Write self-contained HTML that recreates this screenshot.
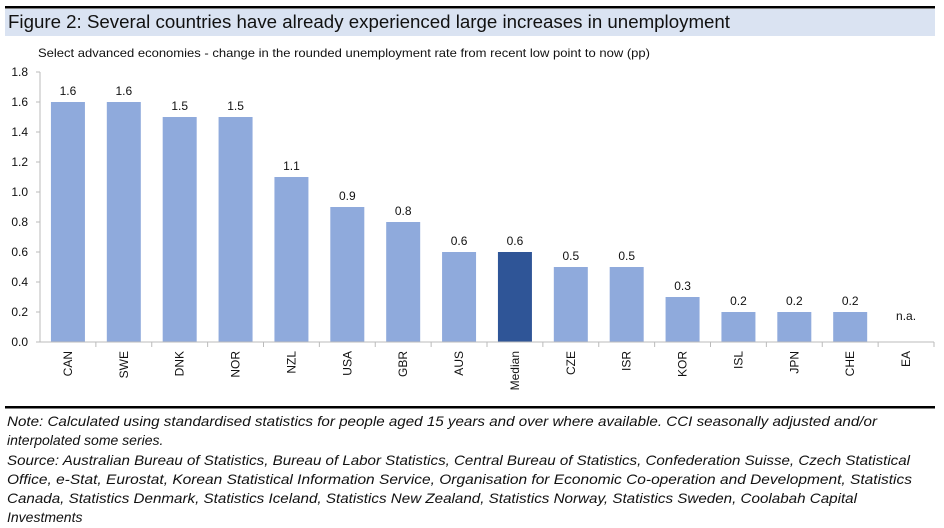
<!DOCTYPE html>
<html><head><meta charset="utf-8"><style>
html,body{margin:0;padding:0;background:#fff;width:944px;height:528px;overflow:hidden;font-family:"Liberation Sans",sans-serif}
</style></head><body>
<svg id="chart" width="944" height="528" xmlns="http://www.w3.org/2000/svg">
<rect x="5" y="6" width="930" height="2.5" fill="#000"/>
<rect x="5" y="9" width="930" height="27" fill="#dae3f2"/>
<text x="8" y="28" font-size="18.5" fill="#111" textLength="722" lengthAdjust="spacingAndGlyphs">Figure 2: Several countries have already experienced large increases in unemployment</text>
<text x="38" y="57" font-size="12" fill="#111" textLength="612" lengthAdjust="spacingAndGlyphs">Select advanced economies - change in the rounded unemployment rate from recent low point to now (pp)</text>
<g id="plot"></g>
<rect x="5" y="406" width="930" height="2.5" fill="#000"/>
<g font-size="14" font-style="italic" fill="#111">
<text x="7" y="426" textLength="870" lengthAdjust="spacingAndGlyphs">Note: Calculated using standardised statistics for people aged 15 years and over where available.  CCI seasonally adjusted and/or</text>
<text x="7" y="445">interpolated some series.</text>
<text x="7" y="465" textLength="903" lengthAdjust="spacingAndGlyphs">Source: Australian Bureau of Statistics, Bureau of Labor Statistics, Central Bureau of Statistics, Confederation Suisse, Czech Statistical</text>
<text x="7" y="484" textLength="905" lengthAdjust="spacingAndGlyphs">Office, e-Stat, Eurostat, Korean Statistical Information Service, Organisation for Economic Co-operation and Development, Statistics</text>
<text x="7" y="503" textLength="850" lengthAdjust="spacingAndGlyphs">Canada, Statistics Denmark, Statistics Iceland, Statistics New Zealand, Statistics Norway, Statistics Sweden, Coolabah Capital</text>
<text x="7" y="522">Investments</text>
</g>
</svg>
<script>
const categories=["CAN","SWE","DNK","NOR","NZL","USA","GBR","AUS","Median","CZE","ISR","KOR","ISL","JPN","CHE","EA"];
const values=[1.6,1.6,1.5,1.5,1.1,0.9,0.8,0.6,0.6,0.5,0.5,0.3,0.2,0.2,0.2,null];
const valueLabels=["1.6","1.6","1.5","1.5","1.1","0.9","0.8","0.6","0.6","0.5","0.5","0.3","0.2","0.2","0.2","n.a."];
const yTicks=[0,0.2,0.4,0.6,0.8,1.0,1.2,1.4,1.6,1.8];
const NS="http://www.w3.org/2000/svg";
const g=document.getElementById('plot');
const x0=40,x1=934,y0=342,yTop=72,yMax=1.8;
const bw=(x1-x0)/categories.length;
function yS(v){return y0-(v/yMax)*(y0-yTop);}
function xC(i){return x0+bw*(i+0.5);}
function mk(t,a){const e=document.createElementNS(NS,t);for(const k in a)e.setAttribute(k,a[k]);g.appendChild(e);return e;}
yTicks.forEach(v=>{
 const t=mk('text',{x:28,y:yS(v)+4,'font-size':12,'text-anchor':'end',fill:'#111'});
 t.textContent=v.toFixed(1);
 
 
 const l=mk('line',{x1:36,x2:40,y1:yS(v),y2:yS(v),stroke:'#bbb'});
 
 
});
const ya=mk('line',{x1:40,x2:40,y1:yTop,y2:y0,stroke:'#bbb'});


categories.forEach((c,i)=>{
 const v=values[i];
 if(v!==null){
  const r=mk('rect',{x:xC(i)-17,y:yS(v),width:34,height:y0-yS(v),fill:c==="Median"?'#2f5597':'#8faadc'});
  
  
 }
 const lbl=mk('text',{x:xC(i),y:(v===null?yS(0.1):yS(v))-7,'font-size':12,'text-anchor':'middle',fill:'#111'});
 lbl.textContent=valueLabels[i];
 
 
 const tk=mk('line',{x1:x0+bw*(i+1),x2:x0+bw*(i+1),y1:y0,y2:y0+5,stroke:'#bbb'});
 
 
 const ct=mk('text',{x:0,y:0,'font-size':12,'text-anchor':'end',fill:'#111',transform:`translate(${xC(i)+4},${y0+9}) rotate(-90)`});
 ct.textContent=c;
 
 
});
const xa=mk('line',{x1:x0,x2:x1,y1:y0,y2:y0,stroke:'#bbb'});


</script>
</body></html>
